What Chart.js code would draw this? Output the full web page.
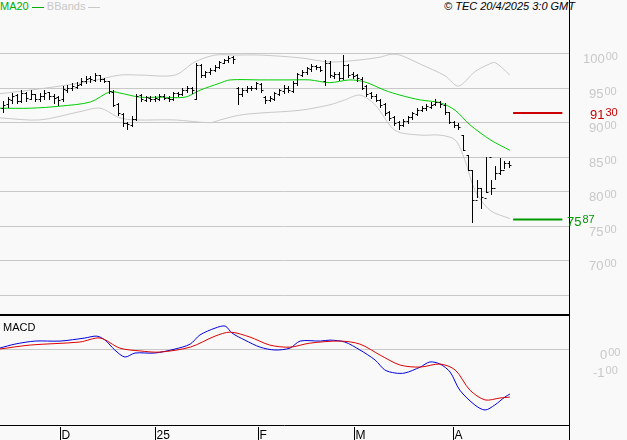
<!DOCTYPE html>
<html><head><meta charset="utf-8">
<script src="https://cdn.jsdelivr.net/npm/chart.js@4/dist/chart.umd.min.js"></script>
<style>
body{margin:0;background:#f9f9f9;width:627px;height:440px;overflow:hidden;position:relative;font-family:"Liberation Sans",Arial,sans-serif}
#top{position:absolute;left:0;top:0}
#bot{position:absolute;left:0;top:316px}
.hdr{position:absolute;top:0;font-size:11px;line-height:12px}
</style></head><body>
<div class="hdr" style="left:0;color:#00b000">MA20 <span style="display:inline-block;width:12px;border-top:1px solid #00b000;vertical-align:middle"></span> <span style="color:#c8c8c8">BBands <span style="display:inline-block;width:12px;border-top:1px solid #c8c8c8;vertical-align:middle"></span></span></div>
<div class="hdr" style="right:52px;font-style:italic;color:#000">© TEC 20/4/2025 3:0 GMT</div>
<canvas id="top" width="627" height="316"></canvas>
<canvas id="bot" width="627" height="124"></canvas>
<script>
// price bars, one per trading day (index 0 = mid Nov 2024)
var closes = [9250,9330,9380,9300,9420,9350,9400,9330,9380,9420,9380,9350,9320,
  9480,9500,9520,9540,9600,9630,9620,9680,9620,9600,
  9450,9250,9130,8980,8970,9050,9380,9330,9360,9340,
  9350,9380,9350,9330,9420,9400,9460,9490,
  9460,9830,9680,9720,9750,9800,9870,9900,9930,
  9910,9400,
  9470,9500,9500,9560,9470,9320,9350,9420,9460,
  9490,9460,9570,9690,9720,9780,9810,9790,9750,
  9860,9680,9700,9640,9830,9680,9670,9640,
  9500,9400,9380,9320,9250,9130,9060,8990,8960,
  9010,9070,9130,9180,9210,9230,9250,9290,9260,9150,
  9000,8960,8930,8590,8300,
  7870,8040,7910,7990,8040,8260,8300,8400,8370]
var opens = [9200,9260,9320,9390,9310,9420,9340,9400,9330,9370,9430,9370,9360,
  9330,9470,9500,9510,9550,9590,9640,9610,9680,9630,
  9590,9440,9260,9120,8990,8960,9050,9390,9320,9350,
  9330,9340,9380,9350,9330,9420,9400,9460,
  9490,9340,9820,9680,9720,9760,9800,9860,9900,
  9940,9500,
  9400,9460,9490,9500,9550,9360,9320,9340,9410,
  9450,9500,9450,9560,9680,9720,9770,9810,9790,
  9600,9860,9660,9700,9640,9830,9690,9680,
  9630,9520,9420,9380,9320,9260,9140,9070,9000,
  8960,9010,9070,9120,9180,9200,9220,9260,9290,9250,
  9140,9000,8960,8810,8520,
  8300,7870,8040,7900,8490,8050,8260,8300,8400]
var highs = [9300,9360,9420,9400,9470,9440,9460,9410,9420,9470,9440,9400,9380,
  9520,9540,9560,9580,9640,9660,9660,9710,9680,9640,
  9600,9460,9270,9130,9000,9080,9400,9400,9380,9370,
  9380,9400,9400,9370,9440,9440,9490,9520,
  9510,9860,9840,9740,9780,9820,9890,9920,9960,
  9960,9510,
  9500,9520,9520,9580,9570,9370,9380,9440,9480,
  9530,9520,9590,9710,9750,9800,9840,9830,9810,
  9900,9880,9720,9720,9970,9840,9720,9700,
  9650,9540,9440,9400,9340,9270,9160,9080,9020,
  9040,9090,9150,9200,9230,9260,9290,9330,9300,9270,
  9150,9020,8980,8810,8520,
  8300,8160,8040,8500,8160,8360,8480,8440,8430]
var lows = [9150,9220,9280,9270,9290,9310,9330,9300,9310,9340,9340,9280,9250,
  9310,9440,9470,9490,9530,9570,9580,9600,9590,9580,
  9420,9230,9100,8940,8900,8940,9030,9300,9300,9310,
  9310,9320,9330,9300,9320,9380,9390,9440,
  9420,9330,9650,9650,9700,9740,9780,9850,9870,
  9860,9260,
  9380,9440,9460,9480,9440,9270,9300,9320,9390,
  9420,9430,9430,9540,9660,9700,9740,9770,9740,
  9540,9650,9640,9610,9630,9650,9640,9600,
  9480,9380,9350,9300,9220,9100,9030,8960,8900,
  8940,8990,9050,9100,9160,9180,9200,9240,9220,9120,
  8980,8930,8900,8590,8300,
  7550,7910,7760,7990,7950,8180,8250,8340,8350]

// indicators: [bar index, value]
var ma20 = [[-0.7,9200],[6,9200],[12.4,9230],[19,9290],[23.3,9440],[25.4,9420],[29.8,9360],[34,9360],[39.6,9360],[42.8,9460],[47,9560],[49.4,9610],[55.9,9610],[62.4,9610],[66.7,9610],[71,9570],[75.4,9610],[78.7,9580],[83,9460],[86.3,9390],[90.7,9320],[95,9280],[98.3,9170],[101.5,8960],[106,8740],[110.2,8590]]
var bbUpper = [[-0.7,9410],[8,9480],[19,9590],[25.4,9680],[29.8,9680],[37.4,9680],[41.7,9870],[46.1,9970],[50.4,9970],[55.9,9970],[64.6,9930],[71.1,9870],[77.6,9900],[82,9940],[84.2,9980],[86.3,9970],[90.7,9840],[96.1,9670],[99,9520],[102.6,9730],[105.4,9830],[107,9860],[110.2,9680]]
var bbLower = [[-0.7,9060],[8,9030],[16.7,9150],[21.1,9200],[25.4,9060],[28.7,9030],[37.4,9030],[45,8990],[47.2,9030],[51.5,9100],[55.9,9130],[64.6,9170],[71.1,9250],[74.3,9320],[77.6,9390],[80.9,9250],[85.2,8880],[90.7,8810],[95,8810],[98.3,8740],[100.4,8450],[102.6,8010],[105.9,7720],[110.2,7600]]
var levels = [{value: 9130, label: ['91', '30'], color: '#cc0000'}, {value: 7587, label: ['75', '87'], color: '#009900'}]
var priceTicks = [6500, 7000, 7500, 8000, 8500, 9000, 9500, 10000]

var macd = [[-0.7,5],[2.6,26],[7,42],[12.4,42],[17.8,58],[20.4,68],[22.2,47],[24.3,-5],[26.5,-42],[28.7,-21],[33,-21],[37.4,0],[40.7,26],[42.8,74],[46.1,110],[48.3,121],[49.8,84],[52.6,47],[55.9,10],[59.1,-5],[62.4,5],[64.6,42],[69,42],[71.1,47],[74.3,37],[77.6,-5],[80.9,-58],[83,-110],[85.2,-126],[87.4,-126],[90.7,-95],[92.8,-68],[95,-79],[97.2,-121],[99.3,-216],[102.6,-295],[104.8,-321],[106.9,-295],[109.1,-253],[110.2,-237]]
var signal = [[-0.7,0],[5.9,21],[16.7,37],[21.1,58],[25.4,5],[29.8,-10],[34.1,-16],[40.7,10],[46.1,68],[49.4,89],[53.7,63],[58,21],[62.4,10],[66.7,31],[73.3,42],[77.6,26],[82,-32],[86.3,-84],[90.7,-95],[95,-79],[98.3,-110],[101.5,-216],[104.8,-268],[108,-258],[110.2,-253]]

var months = [{at: 12.4, label: 'D'}, {at: 33, label: '25'}, {at: 55.4, label: 'F'}, {at: 76.3, label: 'M'}, {at: 97.8, label: 'A'}]

var XMIN = -0.65, XMAX = 123.05
function pts(a){ return a.map(p => ({x: p[0], y: p[1]})) }
function line(d, c, extra){ return Object.assign({type:'line', data: pts(d), borderColor: c, borderWidth: 1, pointRadius: 0, tension: 0.3}, extra || {}) }

function splitLabel(ctx, x, y, big, small, color){
  ctx.fillStyle = color
  ctx.font = '13px "Liberation Sans", Arial'
  ctx.textBaseline = 'alphabetic'
  ctx.fillText(big, x, y)
  var w = ctx.measureText(big).width
  ctx.font = '11px "Liberation Sans", Arial'
  ctx.fillText(small, x + w + 1, y - 3)
}

var pricePlugin = {
  id: 'price',
  beforeDatasetsDraw(chart){
    var ctx = chart.ctx, y = chart.scales.y, a = chart.chartArea
    ctx.save()
    ctx.strokeStyle = '#c8c8c8'; ctx.lineWidth = 1
    priceTicks.forEach(v => {
      var py = Math.round(y.getPixelForValue(v)) + 0.5
      ctx.beginPath(); ctx.moveTo(a.left, py); ctx.lineTo(a.right, py); ctx.stroke()
    })
    ctx.restore()
  },
  afterDatasetsDraw(chart){
    var ctx = chart.ctx, x = chart.scales.x, y = chart.scales.y, a = chart.chartArea
    ctx.save()
    ctx.strokeStyle = '#000'; ctx.lineWidth = 1
    closes.forEach((c, i) => {
      var px = Math.round(x.getPixelForValue(i)) + 0.5
      ctx.beginPath()
      ctx.moveTo(px, Math.round(y.getPixelForValue(highs[i])))
      ctx.lineTo(px, Math.round(y.getPixelForValue(lows[i])) + 1)
      var po = Math.round(y.getPixelForValue(opens[i])) + 0.5
      var pc = Math.round(y.getPixelForValue(c)) + 0.5
      ctx.moveTo(px - 2, po); ctx.lineTo(px, po)
      ctx.moveTo(px, pc); ctx.lineTo(px + 2, pc)
      ctx.stroke()
    })
    ctx.beginPath(); ctx.moveTo(a.right + 0.5, 0); ctx.lineTo(a.right + 0.5, chart.height); ctx.stroke()
    ctx.lineWidth = 2
    ctx.beginPath(); ctx.moveTo(0, chart.height - 1); ctx.lineTo(a.right, chart.height - 1); ctx.stroke()
    priceTicks.forEach(v => {
      if (v === 6500) return
      var s = String(v / 100)
      splitLabel(ctx, v >= 10000 ? 583 : 589, y.getPixelForValue(v) + 10, s, '00', '#c8c8c8')
    })
    levels.forEach(l => {
      var py = y.getPixelForValue(l.value) + 6
      if (l.value > 8000) splitLabel(ctx, 590, py, l.label[0], l.label[1], l.color)
      else splitLabel(ctx, 567, py, l.label[0], l.label[1], l.color)
    })
    ctx.restore()
  }
}

new Chart(document.getElementById('top'), {
  data: {datasets: [
    line(ma20, '#00cc00'),
    line(bbUpper, '#c8c8c8'),
    line(bbLower, '#c8c8c8'),
    line([[110.9, levels[0].value], [121.6, levels[0].value]], '#cc0000', {borderWidth: 2, tension: 0}),
    line([[110.9, levels[1].value], [121.6, levels[1].value]], '#009900', {borderWidth: 2, tension: 0})
  ]},
  options: {
    responsive: false, animation: false, events: [],
    layout: {padding: {left: 0, right: 58, top: 0, bottom: 0}},
    plugins: {legend: {display: false}, tooltip: {enabled: false}},
    scales: {
      x: {type: 'linear', display: false, min: XMIN, max: XMAX},
      y: {type: 'linear', display: false, min: 6189, max: 10768}
    }
  },
  plugins: [pricePlugin]
})

var macdPlugin = {
  id: 'macdPanel',
  beforeDatasetsDraw(chart){
    var ctx = chart.ctx, y = chart.scales.y, a = chart.chartArea
    ctx.save()
    ctx.strokeStyle = '#c8c8c8'; ctx.lineWidth = 1
    var py = Math.round(y.getPixelForValue(0)) + 0.5
    ctx.beginPath(); ctx.moveTo(a.left, py); ctx.lineTo(a.right, py); ctx.stroke()
    ctx.restore()
  },
  afterDatasetsDraw(chart){
    var ctx = chart.ctx, x = chart.scales.x, y = chart.scales.y, a = chart.chartArea
    ctx.save()
    ctx.strokeStyle = '#000'; ctx.lineWidth = 1
    ctx.beginPath(); ctx.moveTo(a.right + 0.5, 0); ctx.lineTo(a.right + 0.5, chart.height); ctx.stroke()
    ctx.beginPath(); ctx.moveTo(0, a.bottom + 0.5); ctx.lineTo(a.right, a.bottom + 0.5); ctx.stroke()
    ctx.fillStyle = '#000'
    ctx.font = '11px "Liberation Sans", Arial'
    ctx.textBaseline = 'alphabetic'
    ctx.fillText('MACD', 3, 15)
    ctx.font = '12px "Liberation Sans", Arial'
    months.forEach(m => {
      var px = Math.round(x.getPixelForValue(m.at)) + 0.5
      ctx.beginPath(); ctx.moveTo(px, a.bottom + 2); ctx.lineTo(px, chart.height); ctx.stroke()
      ctx.fillText(m.label, px + 1, chart.height - 1)
    })
    splitLabel(ctx, 600, y.getPixelForValue(0) + 10, '0', '00', '#c8c8c8')
    splitLabel(ctx, 593, y.getPixelForValue(-100) + 9, '-1', '00', '#c8c8c8')
    ctx.restore()
  }
}

new Chart(document.getElementById('bot'), {
  data: {datasets: [
    line(signal, '#dd0000'),
    line(macd, '#0000dd')
  ]},
  options: {
    responsive: false, animation: false, events: [],
    layout: {padding: {left: 0, right: 58, top: 0, bottom: 15}},
    plugins: {legend: {display: false}, tooltip: {enabled: false}},
    scales: {
      x: {type: 'linear', display: false, min: XMIN, max: XMAX},
      y: {type: 'linear', display: false, min: -400, max: 174}
    }
  },
  plugins: [macdPlugin]
})
</script>
</body></html>
